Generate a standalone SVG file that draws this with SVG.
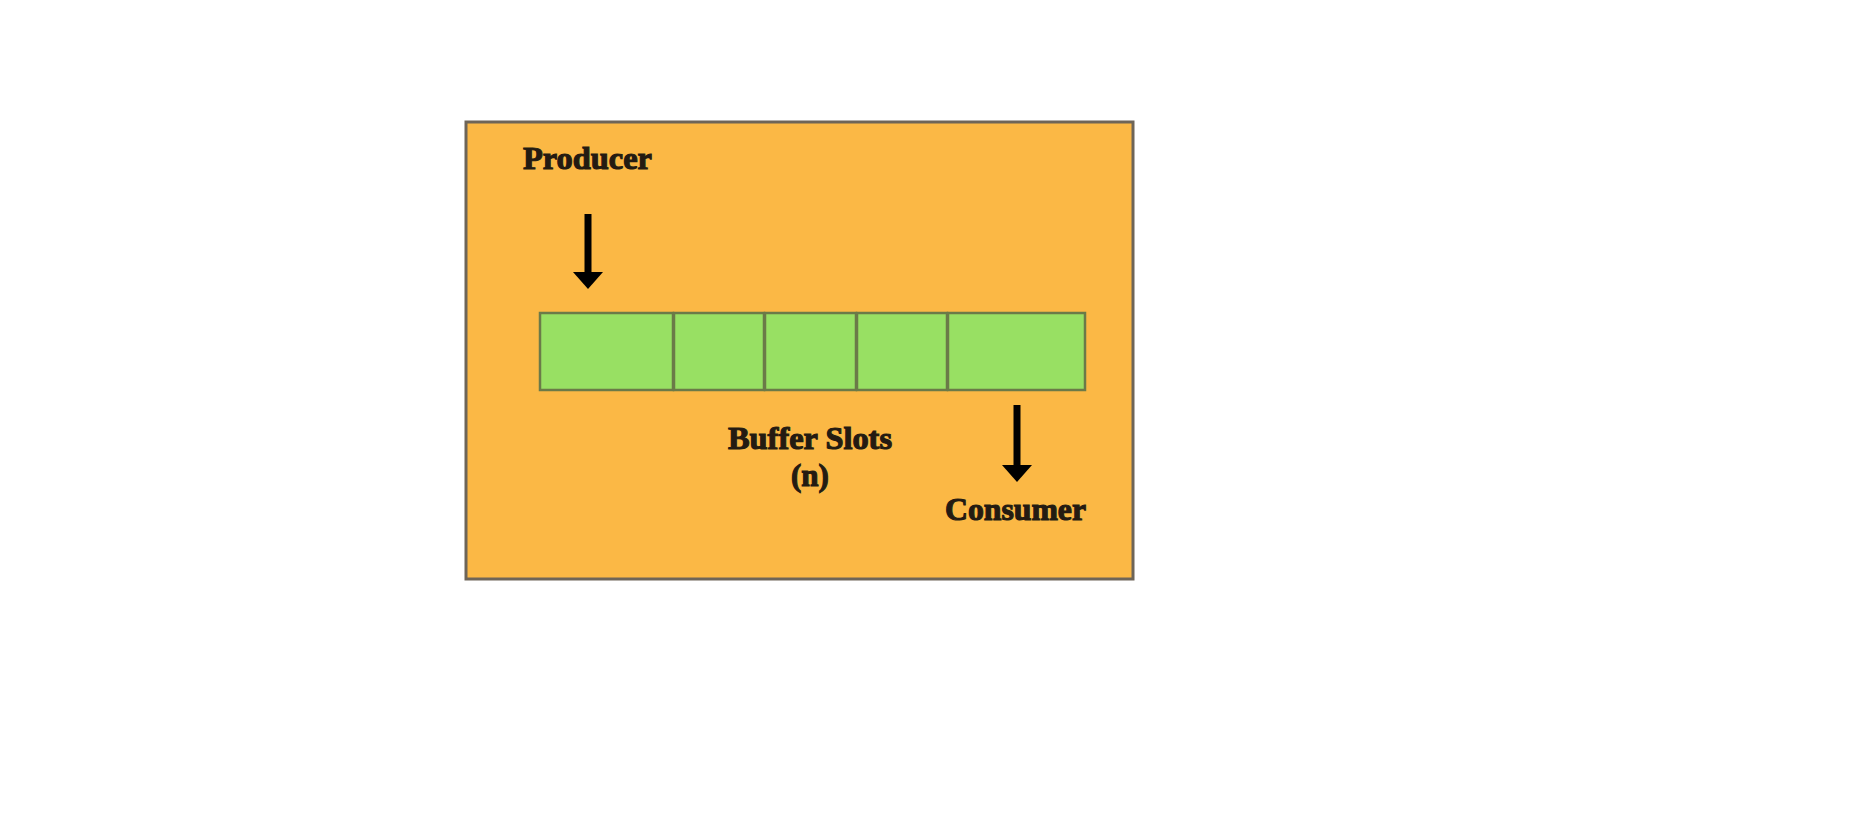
<svg xmlns="http://www.w3.org/2000/svg" width="1865" height="814" viewBox="0 0 1865 814">
<style>
.lbl{font-family:"Liberation Serif","DejaVu Serif",serif;font-weight:bold;font-size:31px;fill:#241b12;stroke:#241b12;stroke-width:1.1;text-anchor:middle}
.slot{fill:#98e063;stroke:#6b7a48;stroke-width:2.5}
.arrow{stroke:#000;stroke-width:7;fill:none}
</style>
<defs>
<marker id="ah" viewBox="0 0 17 30" refX="0" refY="15" markerWidth="17" markerHeight="30" markerUnits="userSpaceOnUse" orient="auto">
<path d="M0,0 L17,15 L0,30 z" fill="#000"/>
</marker>
</defs>
<rect width="1865" height="814" fill="#fff"/>
<g id="container">
<rect x="466" y="122" width="667" height="457" fill="#fbb845" stroke="#6e6558" stroke-width="3"/>
</g>
<g id="buffer">
<rect class="slot" x="540" y="313" width="133" height="77"/>
<rect class="slot" x="674" y="313" width="90" height="77"/>
<rect class="slot" x="765" y="313" width="91" height="77"/>
<rect class="slot" x="857" y="313" width="90" height="77"/>
<rect class="slot" x="948" y="313" width="137" height="77"/>
</g>
<g id="producer">
<text class="lbl" x="587.5" y="169" textLength="129" lengthAdjust="spacingAndGlyphs">Producer</text>
</g>
<g id="consumer">
<text class="lbl" x="1015.5" y="520" textLength="141" lengthAdjust="spacingAndGlyphs">Consumer</text>
</g>
<g id="buffer-label">
<text class="lbl" x="810" y="449" textLength="164" lengthAdjust="spacingAndGlyphs">Buffer Slots</text>
<text class="lbl" x="810" y="486">(n)</text>
</g>
<g id="connectors">
<line class="arrow" x1="588" y1="214" x2="588" y2="272" marker-end="url(#ah)"/>
<line class="arrow" x1="1017" y1="405" x2="1017" y2="465" marker-end="url(#ah)"/>
</g>
</svg>
